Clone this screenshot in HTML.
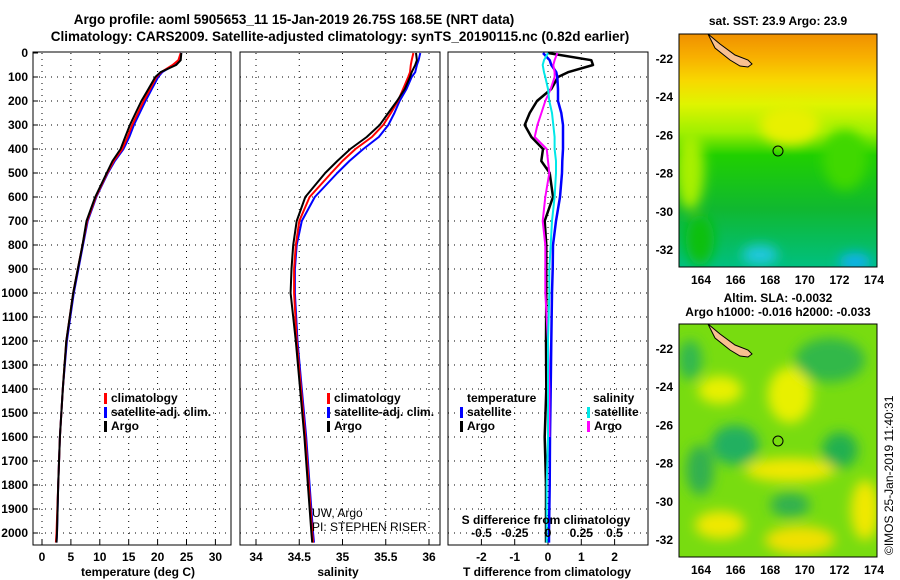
<!DOCTYPE html>
<html><head><meta charset="utf-8"><style>
html,body{margin:0;padding:0;background:#fff;}
svg{display:block;font-family:"Liberation Sans",sans-serif;}
text{font-weight:bold;font-size:12px;fill:#000;}
</style></head><body>
<svg id="c" width="900" height="580" viewBox="0 0 900 580">
<defs>
<linearGradient id="sstg" x1="0" y1="0" x2="0" y2="1">
<stop offset="0" stop-color="#f09000"/><stop offset="0.1" stop-color="#f8b000"/><stop offset="0.2" stop-color="#f8d800"/><stop offset="0.3" stop-color="#e0f400"/>
<stop offset="0.42" stop-color="#a0f000"/><stop offset="0.52" stop-color="#20d000"/><stop offset="0.75" stop-color="#10b830"/><stop offset="1" stop-color="#00c080"/>
</linearGradient>
<filter id="bl"><feGaussianBlur stdDeviation="6"/></filter>
<clipPath id="cm1"><rect x="679" y="34" width="198" height="233"/></clipPath>
<clipPath id="cm2"><rect x="679" y="324" width="198" height="233"/></clipPath>
<clipPath id="cp1"><rect x="33" y="52" width="198" height="493"/></clipPath>
<clipPath id="cp2"><rect x="240" y="52" width="200" height="493"/></clipPath>
<clipPath id="cp3"><rect x="448" y="52" width="200" height="493"/></clipPath>
</defs>
<text x="294" y="24" text-anchor="middle" style="font-size:13.5px">Argo profile: aoml 5905653_11 15-Jan-2019 26.75S 168.5E (NRT data)</text>
<text x="340" y="41" text-anchor="middle" style="font-size:13.5px">Climatology: CARS2009. Satellite-adjusted climatology: synTS_20190115.nc (0.82d earlier)</text>
<g id="g"></g>
<g>
<text x="778" y="25" text-anchor="middle">sat. SST: 23.9 Argo: 23.9</text>
<g clip-path="url(#cm1)">
<rect x="679" y="34" width="198" height="233" fill="url(#sstg)"/>
<g filter="url(#bl)">
<ellipse cx="690" cy="170" rx="14" ry="40" fill="#a8f000"/>
<ellipse cx="845" cy="160" rx="22" ry="30" fill="#40d800"/>
<ellipse cx="790" cy="125" rx="30" ry="20" fill="#e8f000"/>
<ellipse cx="760" cy="255" rx="18" ry="10" fill="#20c8e0"/>
<ellipse cx="855" cy="262" rx="16" ry="9" fill="#10b0f0"/>
<ellipse cx="700" cy="240" rx="14" ry="25" fill="#10c010"/>
</g>
<path d="M708 34 L720 44 L735 55 L748 60 L752 64 L748 67 L740 66 L730 60 L715 48 Z" fill="#f8c090" stroke="#000" stroke-width="1"/>
<circle cx="778" cy="151" r="5" fill="none" stroke="#000"/>
</g>
<rect x="679" y="34" width="198" height="233" fill="none" stroke="#000"/>
</g>
<g>
<text x="778" y="302" text-anchor="middle">Altim. SLA: -0.0032</text>
<text x="778" y="316" text-anchor="middle">Argo h1000: -0.016 h2000: -0.033</text>
<g clip-path="url(#cm2)">
<rect x="679" y="324" width="198" height="233" fill="#78dc10"/>
<g filter="url(#bl)">
<ellipse cx="720" cy="390" rx="22" ry="14" fill="#e8f000"/>
<ellipse cx="790" cy="395" rx="22" ry="28" fill="#e8f000"/>
<ellipse cx="735" cy="445" rx="24" ry="20" fill="#20b060"/>
<ellipse cx="840" cy="450" rx="18" ry="18" fill="#20b050"/>
<ellipse cx="830" cy="360" rx="35" ry="22" fill="#30b848"/>
<ellipse cx="690" cy="360" rx="12" ry="20" fill="#30b850"/>
<ellipse cx="790" cy="470" rx="45" ry="12" fill="#f0e800"/>
<ellipse cx="720" cy="525" rx="25" ry="14" fill="#f0e800"/>
<ellipse cx="800" cy="540" rx="35" ry="14" fill="#f0e000"/>
<ellipse cx="790" cy="505" rx="20" ry="12" fill="#30b050"/>
<ellipse cx="700" cy="470" rx="14" ry="25" fill="#30b050"/>
<ellipse cx="865" cy="510" rx="14" ry="30" fill="#f0e800"/>
</g>
<path d="M708 324 L720 334 L735 345 L748 350 L752 354 L748 357 L740 356 L730 350 L715 338 Z" fill="#f8c090" stroke="#000" stroke-width="1"/>
<circle cx="778" cy="441" r="5" fill="none" stroke="#000"/>
</g>
<rect x="679" y="324" width="198" height="233" fill="none" stroke="#000"/>
</g>
<text transform="translate(893,555) rotate(-90)" style="font-weight:normal;font-size:12px">©IMOS 25-Jan-2019 11:40:31</text>
</svg>
<script>
const depths=[0,30,50,80,100,150,200,250,300,350,400,450,500,600,700,800,900,1000,1200,1400,1600,1800,2000,2040];
const tempArgo=[24.1,24,23.2,20.5,19.6,18.4,17.2,16.2,15.2,14.4,13.6,12.2,11.2,9.2,7.7,7,6.2,5.4,4.2,3.6,3.1,2.8,2.6,2.5];
const tempClim=[24,23.6,22.6,20.6,19.8,18.7,17.6,16.6,15.6,14.8,13.9,12.4,11.3,9.3,7.8,7,6.2,5.4,4.2,3.6,3.1,2.8,2.5,2.4];
const tempSat=[24.1,23.8,22.8,20.8,20.1,19,17.9,16.9,15.9,15.1,14.1,12.6,11.4,9.4,7.9,7.1,6.3,5.5,4.3,3.6,3.1,2.8,2.6,2.5];
const salArgo=[35.85,35.86,35.84,35.8,35.78,35.72,35.63,35.53,35.43,35.28,35.09,34.94,34.8,34.57,34.47,34.43,34.41,34.4,34.46,34.51,34.56,34.6,34.64,34.65];
const salClim=[35.82,35.8,35.79,35.78,35.76,35.7,35.64,35.56,35.47,35.34,35.15,35.0,34.87,34.62,34.5,34.46,34.44,34.44,34.47,34.52,34.57,34.61,34.65,34.66];
const salSat=[35.9,35.88,35.86,35.84,35.8,35.74,35.66,35.6,35.53,35.42,35.24,35.08,34.94,34.68,34.53,34.47,34.45,34.45,34.48,34.53,34.58,34.62,34.66,34.67];
const dTArgo=[0,1.3,1.35,0.6,0.3,0.1,-0.33,-0.55,-0.7,-0.5,-0.15,-0.2,0.05,0.15,-0.1,-0.05,-0.05,-0.05,-0.06,-0.05,-0.1,-0.06,-0.06,-0.06];
const dTSat=[-0.15,0.05,0.1,0.25,0.28,0.3,0.3,0.4,0.45,0.45,0.45,0.43,0.42,0.36,0.24,0.15,0.14,0.12,0.1,0.08,0.06,0.05,0.03,0.03];
const dSArgo=[0.07,0.05,0.04,0.05,0.05,0.02,-0.02,-0.05,-0.08,-0.1,-0.01,0.0,0.01,-0.02,-0.04,-0.02,-0.02,-0.02,0.0,0.01,0.01,null,null,null];
const dSSat=[0.0,-0.03,-0.04,-0.03,-0.02,0.0,0.01,0.03,0.04,0.05,0.05,0.06,0.06,0.05,0.03,0.02,0.01,0.01,0.0,0.0,0.0,-0.01,-0.01,-0.01];
const depthTicks=[0,100,200,300,400,500,600,700,800,900,1000,1100,1200,1300,1400,1500,1600,1700,1800,1900,2000];
const tTicks=[0,5,10,15,20,25,30];
const sTicks=[34,34.5,35,35.5,36];
const dTTicks=[-2,-1,0,1,2];
const dSTicks=["-0.5","-0.25","0","0.25","0.5"];
const latTicks=[-22,-24,-26,-28,-30,-32];
const lonTicks=[164,166,168,170,172,174];

const NS='http://www.w3.org/2000/svg';
const g=document.getElementById('g');
function el(t,a,p){const e=document.createElementNS(NS,t);for(const k in a)e.setAttribute(k,a[k]);(p||g).appendChild(e);return e;}
const yD=d=>53+d*0.24;
const xT=v=>42+v*5.78;
const xS=v=>256+(v-34)*86.5;
const xDT=v=>548+v*33.3;
const xDS=v=>548+v*133;
const yLat=l=>59+(-22-l)*19.1;
const xLon=l=>701+(l-164)*17.3;

const panels=[[33,198,'cp1','temperature-panel'],[240,200,'cp2','salinity-panel'],[448,200,'cp3','difference-panel']];
panels.forEach(p=>{
  for(const d of depthTicks){ if(d===0)continue;
    const l=el('line',{x1:p[0],x2:p[0]+p[1],y1:yD(d),y2:yD(d),stroke:'#000','stroke-dasharray':'1 5'});
    
    
  }
});
function vgrid(ticks,fx,name){for(const t of ticks){const l=el('line',{x1:fx(t),x2:fx(t),y1:53,y2:545,stroke:'#000','stroke-dasharray':'1 5'});


el('line',{x1:fx(t),x2:fx(t),y1:545,y2:540,stroke:'#000'});}}
vgrid(tTicks,xT,'temperature-gridline');
vgrid(sTicks,xS,'salinity-gridline');
vgrid(dTTicks,xDT,'tdiff-gridline');

function line(xs,fx,col,w,clip,name){
  let pts=[];
  xs.forEach((v,i)=>{if(v!==null)pts.push(fx(v).toFixed(1)+','+yD(depths[i]).toFixed(1));});
  const pl=el('polyline',{points:pts.join(' '),fill:'none',stroke:col,'stroke-width':w,'clip-path':'url(#'+clip+')','stroke-linejoin':'round'});
  
  
}
line(tempSat,xT,'#0000ff',2,'cp1','temperature-satellite-line');
line(tempClim,xT,'#ff0000',2,'cp1','temperature-climatology-line');
line(tempArgo,xT,'#000',2,'cp1','temperature-argo-line');
line(salSat,xS,'#0000ff',2,'cp2','salinity-satellite-line');
line(salClim,xS,'#ff0000',2,'cp2','salinity-climatology-line');
line(salArgo,xS,'#000',2,'cp2','salinity-argo-line');
line(dTArgo,xDT,'#000',2.5,'cp3','tdiff-argo-line');
line(dTSat,xDT,'#0000ff',2.5,'cp3','tdiff-satellite-line');
line(dSArgo,xDS,'#ff00ff',2,'cp3','sdiff-argo-line');
line(dSSat,xDS,'#00e8e8',2,'cp3','sdiff-satellite-line');

panels.forEach(p=>{const r=el('rect',{x:p[0],y:52,width:p[1],height:493,fill:'none',stroke:'#000'});

});

function txt(x,y,s,anchor,name,style){const t=el('text',{x:x,y:y,'text-anchor':anchor||'middle'});t.textContent=s;if(style)t.setAttribute('style',style);

return t;}
for(const d of depthTicks){txt(28,yD(d)+4,String(d),'end','depth-tick-label');el('line',{x1:33,x2:38,y1:yD(d),y2:yD(d),stroke:'#000'});}
for(const t of tTicks)txt(xT(t),561,String(t),'middle','temperature-tick-label');
for(const t of sTicks)txt(xS(t),561,String(t),'middle','salinity-tick-label');
for(const t of dTTicks)txt(xDT(t),561,String(t),'middle','tdiff-tick-label');
dSTicks.forEach(t=>txt(xDS(parseFloat(t)),537,t,'middle','sdiff-tick-label'));
txt(138,576,'temperature (deg C)','middle','temperature-axis-title');
txt(338,576,'salinity','middle','salinity-axis-title');
txt(547,576,'T difference from climatology','middle','tdiff-axis-title');
txt(546,524,'S difference from climatology','middle','sdiff-axis-title');

function leg(x,y,col,s,name){el('rect',{x:x,y:y-9,width:3,height:11,fill:col});txt(x+7,y,s,'start',name);}
leg(104,402,'#ff0000','climatology','legend-climatology');
leg(104,416,'#0000ff','satellite-adj. clim.','legend-satellite');
leg(104,430,'#000','Argo','legend-argo');
leg(327,402,'#ff0000','climatology','legend-sal-climatology');
leg(327,416,'#0000ff','satellite-adj. clim.','legend-sal-satellite');
leg(327,430,'#000','Argo','legend-sal-argo');
txt(467,402,'temperature','start','legend-temperature-heading');
leg(460,416,'#0000ff','satellite','legend-tdiff-satellite');
leg(460,430,'#000','Argo','legend-tdiff-argo');
txt(593,402,'salinity','start','legend-salinity-heading');
leg(587,416,'#00e8e8','satellite','legend-sdiff-satellite');
leg(587,430,'#ff00ff','Argo','legend-sdiff-argo');
txt(312,517,'UW, Argo','start','credit-line-1','font-weight:normal');
txt(312,531,'PI: STEPHEN RISER','start','credit-line-2','font-weight:normal');

[0,290].forEach(off=>{
  for(const l of latTicks){txt(673,yLat(l)+off+4,String(l),'end','latitude-tick-label');
    el('line',{x1:679,x2:683,y1:yLat(l)+off,y2:yLat(l)+off,stroke:'#000'});
    el('line',{x1:873,x2:877,y1:yLat(l)+off,y2:yLat(l)+off,stroke:'#000'});}
  for(const l of lonTicks){txt(xLon(l),off+284,String(l),'middle','longitude-tick-label');
    el('line',{x1:xLon(l),x2:xLon(l),y1:off+263,y2:off+267,stroke:'#000'});}
});
</script>
</body></html>
